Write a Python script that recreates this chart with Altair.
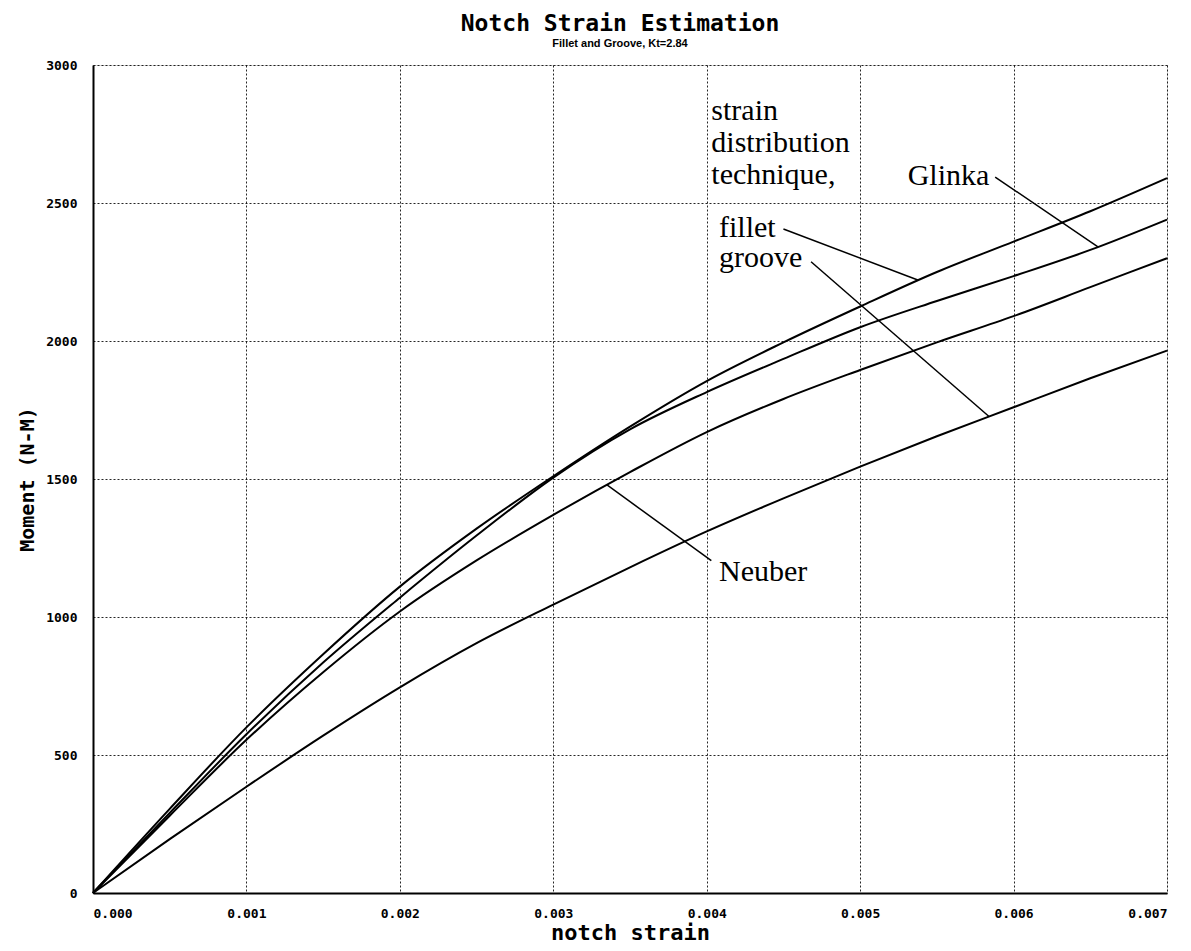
import altair as alt
import numpy as np
import pandas as pd

# ---- data ----
strain = [0.0, 0.0005, 0.001, 0.0015, 0.002, 0.0025, 0.003, 0.0035,
          0.004, 0.0045, 0.005, 0.0055, 0.006, 0.0065, 0.007]
fillet = [0, 305, 600, 865, 1110, 1320, 1510, 1690, 1855, 1995, 2125, 2250, 2360, 2470, 2590]
glinka = [0, 290, 575, 835, 1070, 1295, 1505, 1680, 1815, 1935, 2050, 2145, 2235, 2330, 2440]
neuber = [0, 280, 555, 800, 1020, 1205, 1370, 1525, 1670, 1790, 1895, 1995, 2090, 2195, 2300]
groove = [0, 195, 385, 570, 745, 905, 1045, 1180, 1310, 1430, 1545, 1655, 1760, 1865, 1965]

x_ticks = [0.0, 0.001, 0.002, 0.003, 0.004, 0.005, 0.006, 0.007]
y_ticks = [0, 500, 1000, 1500, 2000, 2500, 3000]

label_text = ["strain\ndistribution\ntechnique,", "Glinka", "fillet", "groove", "Neuber"]
label_x = [0.00403, 0.00531, 0.00408, 0.00408, 0.00408]
label_y = [2800, 2565, 2377, 2269, 1131]

# arrows: start point (near label) and the strain where they meet a curve
arrow_x = [0.00588, 0.00450, 0.00468, 0.00403]
arrow_y = [2594, 2406, 2287, 1204]
arrow_end_x = [0.00655, 0.00538, 0.00584, 0.00335]
arrow_target = ["glinka", "fillet", "groove", "neuber"]

series = {"fillet": fillet, "glinka": glinka, "neuber": neuber, "groove": groove}

rows = []
for name, vals in series.items():
    for s, v in zip(strain, vals):
        rows.append({"strain": s, "moment": v, "series": name})
curves = pd.DataFrame(rows)

arrows = pd.DataFrame({
    "x": arrow_x,
    "y": arrow_y,
    "x2": arrow_end_x,
    "y2": [float(np.interp(ex, strain, series[t])) for ex, t in zip(arrow_end_x, arrow_target)],
})
labels = pd.DataFrame({"x": label_x, "y": label_y, "text": label_text})

xscale = alt.Scale(domain=[0, 0.007], nice=False)
yscale = alt.Scale(domain=[0, 3000], nice=False)

xaxis = alt.Axis(values=x_ticks, format=".3f", title="notch strain",
                 labelFont="DejaVu Sans Mono", labelFontWeight="bold", labelFontSize=13,
                 labelColor="black", labelPadding=14, tickSize=0,
                 titleFont="DejaVu Sans Mono", titleFontSize=22, titleFontWeight="bold",
                 titleColor="black", titlePadding=2,
                 domainColor="black", domainWidth=2,
                 gridColor="black", gridDash=[2, 2], gridWidth=1, gridOpacity=0.85)
yaxis = alt.Axis(values=y_ticks, format="d", title="Moment (N-M)",
                 labelFont="DejaVu Sans Mono", labelFontWeight="bold", labelFontSize=13,
                 labelColor="black", labelPadding=16, tickSize=0,
                 titleFont="DejaVu Sans Mono", titleFontSize=20, titleFontWeight="bold",
                 titleColor="black", titlePadding=8,
                 domainColor="black", domainWidth=2,
                 gridColor="black", gridDash=[2, 2], gridWidth=1, gridOpacity=0.85)

lines = alt.Chart(curves).mark_line(color="black", strokeWidth=2, interpolate="monotone").encode(
    x=alt.X("strain:Q", scale=xscale, axis=xaxis),
    y=alt.Y("moment:Q", scale=yscale, axis=yaxis),
    detail="series:N",
)

rules = alt.Chart(arrows).mark_rule(color="black", strokeWidth=1.5).encode(
    x="x:Q", y="y:Q", x2="x2:Q", y2="y2:Q"
)

texts = alt.Chart(labels).mark_text(font="Liberation Serif", fontSize=30, align="left",
                                    baseline="alphabetic", color="black",
                                    lineBreak="\n", lineHeight=32).encode(
    x="x:Q", y="y:Q", text="text:N"
)

chart = alt.layer(lines, rules, texts).properties(
    width=1074,
    height=828,
    title=alt.TitleParams(
        text="Notch Strain Estimation",
        subtitle="Fillet and Groove, Kt=2.84",
        font="DejaVu Sans Mono", fontSize=23, fontWeight="bold", color="black",
        subtitleFont="Liberation Sans", subtitleFontSize=11, subtitleFontWeight="bold",
        subtitleColor="black", subtitlePadding=2,
        anchor="middle", offset=10, dx=-10,
    ),
    autosize=alt.AutoSizeParams(type="none"),
    padding={"left": 85, "top": 57, "right": 10, "bottom": 56},
).configure_view(
    stroke="black", strokeWidth=2
).configure(background="white")

chart.save("out.html", embed_options={"renderer": "svg", "actions": False})
